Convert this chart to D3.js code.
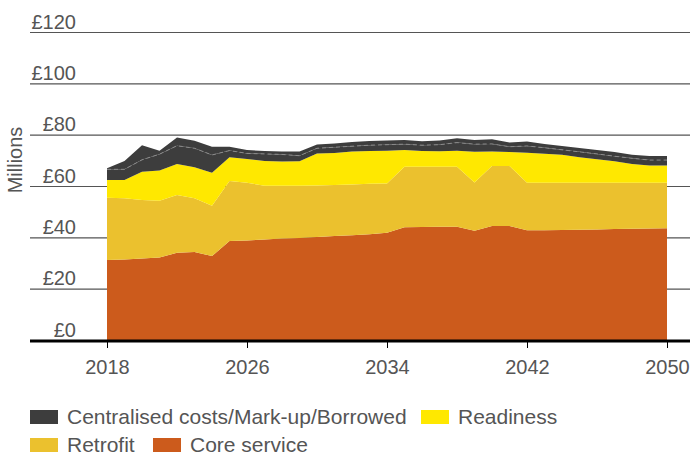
<!doctype html>
<html lang="en">
<head>
<meta charset="utf-8">
<title>Cost projection</title>
<script src="https://d3js.org/d3.v7.min.js"></script>
<style>
    body { margin: 0; background: #fff; }
    text { font-family: "Liberation Sans", Arial, sans-serif; fill: #555; }
</style>
</head>
<body>
<script>
// Data (millions of pounds)
const years = [2018, 2019, 2020, 2021, 2022, 2023, 2024, 2025, 2026, 2027, 2028,
               2029, 2030, 2031, 2032, 2033, 2034, 2035, 2036, 2037, 2038, 2039,
               2040, 2041, 2042, 2043, 2044, 2045, 2046, 2047, 2048, 2049, 2050];

const core = [31.2, 31.4, 31.8, 32.1, 34.0, 34.3, 32.7, 38.6, 38.8, 39.2, 39.5,
              39.7, 40.1, 40.5, 40.8, 41.2, 41.8, 43.9, 44.0, 44.1, 44.1, 42.6,
              44.4, 44.4, 42.8, 42.8, 42.9, 43.0, 43.1, 43.2, 43.3, 43.4, 43.5];

const retrofit = [24.2, 23.8, 22.7, 22.2, 22.5, 20.9, 19.6, 23.3, 22.5, 20.9, 20.6,
                  20.4, 20.1, 19.9, 19.8, 19.7, 19.2, 23.6, 23.5, 23.4, 23.4, 18.8,
                  23.4, 23.4, 18.5, 18.5, 18.4, 18.3, 18.2, 18.1, 18.0, 17.9, 17.8];

const readiness = [6.9, 7.1, 11.1, 11.7, 12.1, 12.1, 12.9, 9.3, 9.2, 9.6, 9.4,
                   9.5, 12.5, 12.5, 12.8, 12.7, 12.7, 6.5, 6.1, 6.0, 6.2, 11.9,
                   5.6, 5.4, 11.7, 11.3, 10.9, 9.9, 9.1, 8.3, 7.3, 6.7, 6.7];

const centralised = [4.2, 4.2, 4.6, 6.4, 7.1, 7.4, 6.9, 2.6, 2.2, 2.8, 2.8,
                     2.2, 2.0, 2.2, 2.1, 2.3, 2.4, 2.3, 2.3, 2.6, 3.2, 3.0,
                     3.0, 2.1, 2.6, 2.3, 1.9, 2.1, 2.1, 2.0, 2.2, 2.1, 2.1];

const markup = [0.4, 3.2, 5.7, 1.3, 3.2, 2.9, 3.2, 1.5, 1.3, 1.1, 1.1,
                1.6, 1.5, 1.5, 1.6, 1.6, 1.6, 1.6, 1.5, 1.6, 1.7, 1.6,
                1.8, 1.6, 1.7, 1.5, 1.5, 1.5, 1.5, 1.6, 1.4, 1.6, 1.6];

const yTicks = [0, 20, 40, 60, 80, 100, 120];
const xTicks = [2018, 2026, 2034, 2042, 2050];

const legendLabels = ["Centralised costs/Mark-up/Borrowed", "Readiness", "Retrofit", "Core service"];

// Colours
const colours = {
    core: "#cc5b1c",
    retrofit: "#ebc12e",
    readiness: "#ffe800",
    centralised: "#3d3d3d",
    markup: "#3d3d3d"
};

// Build table for d3.stack
const rows = years.map((yr, i) => ({
    year: yr,
    core: core[i],
    retrofit: retrofit[i],
    readiness: readiness[i],
    centralised: centralised[i],
    markup: markup[i]
}));
const keys = ["core", "retrofit", "readiness", "centralised", "markup"];

const width = 690, height = 455;

const svg = d3.select("body").append("svg")
    .attr("width", width)
    .attr("height", height);

const x = d3.scaleLinear().domain([2018, 2050]).range([107, 667]);
const y = d3.scaleLinear().domain([0, 120]).range([340, 32]);

// Gridlines + y labels
const yAxis = svg.append("g")
    .attr("transform", "translate(30,0)")
    .call(d3.axisRight(y).tickValues(yTicks).tickSize(660).tickFormat(d => "£" + d));
yAxis.select(".domain").remove();
yAxis.selectAll(".tick line").attr("stroke", "#555").attr("stroke-width", 1.2);
yAxis.selectAll(".tick text")
    .attr("x", 46).attr("dy", -4)
    .attr("text-anchor", "end")
    .style("font-size", "20px")
    .attr("fill", "#555");

// Stacked areas
const series = d3.stack().keys(keys)(rows);
const area = d3.area()
    .x(d => x(d.data.year))
    .y0(d => y(d[0]))
    .y1(d => y(d[1]));

svg.append("g").selectAll("path")
    .data(series)
    .join("path")
    .attr("fill", d => colours[d.key])
    .attr("d", area);

// dashed split inside the dark band
const splitLine = d3.line()
    .x(d => x(d.data.year))
    .y(d => y(d[1]));
svg.append("path")
    .datum(series[3])
    .attr("fill", "none")
    .attr("stroke", "#8a8a8a")
    .attr("stroke-width", 1)
    .attr("stroke-dasharray", "4,3")
    .attr("d", splitLine);

// X axis
svg.append("line")
    .attr("x1", 30).attr("x2", 690)
    .attr("y1", y(0) + 1).attr("y2", y(0) + 1)
    .attr("stroke", "#000").attr("stroke-width", 3);

const xAxis = svg.append("g")
    .attr("transform", "translate(0," + (y(0) + 2) + ")")
    .call(d3.axisBottom(x).tickValues(xTicks).tickSize(6).tickPadding(12).tickFormat(d3.format("d")));
xAxis.select(".domain").remove();
xAxis.selectAll(".tick line").attr("stroke", "#000");
xAxis.selectAll(".tick text").style("font-size", "20px").attr("fill", "#555");

// Y title
svg.append("text")
    .attr("transform", "translate(22,160) rotate(-90)")
    .attr("text-anchor", "middle")
    .style("font-size", "20px")
    .text("Millions");

// Legend
const legendItems = [
    { label: legendLabels[0], colour: colours.centralised, x: 30, y: 410 },
    { label: legendLabels[1], colour: colours.readiness, x: 421, y: 410 },
    { label: legendLabels[2], colour: colours.retrofit, x: 30, y: 438 },
    { label: legendLabels[3], colour: colours.core, x: 153, y: 438 }
];
const legend = svg.append("g").selectAll("g")
    .data(legendItems)
    .join("g")
    .attr("transform", d => "translate(" + d.x + "," + d.y + ")");
legend.append("rect")
    .attr("width", 28).attr("height", 14)
    .attr("fill", d => d.colour);
legend.append("text")
    .attr("x", 37).attr("y", 14)
    .style("font-size", "21px")
    .text(d => d.label);
</script>
</body>
</html>
